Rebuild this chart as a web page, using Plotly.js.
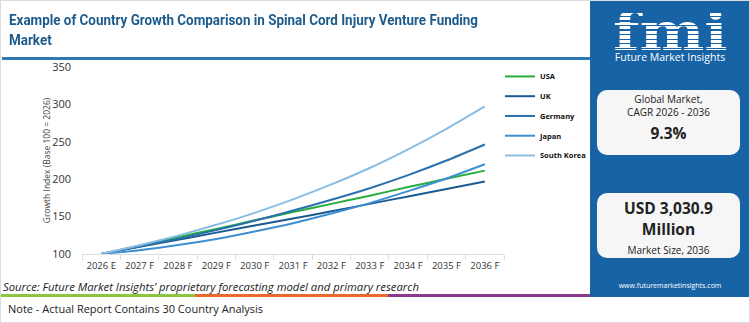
<!DOCTYPE html>
<html><head><meta charset="utf-8">
<script src="https://cdn.plot.ly/plotly-3.0.1.min.js"></script>
<style>
html,body{margin:0;padding:0;background:#fff;}
#wrap{position:relative;width:750px;height:323px;overflow:hidden;background:#fff;font-family:"Open Sans",sans-serif;}
#border{position:absolute;left:0;top:0;width:748px;height:321px;border:1px solid #dcdcdc;}
#title{position:absolute;left:9px;top:10px;font-family:Roboto,sans-serif;font-weight:700;font-size:15px;line-height:20px;color:#1d5b8c;white-space:nowrap;transform-origin:0 0;}
#tline{position:absolute;left:2px;top:57px;width:588px;height:3px;background:#2c78b0;}
#chart{position:absolute;left:0;top:40px;width:660px;height:250px;}
#panel{position:absolute;left:590px;top:0;width:160px;height:297px;background:#1863a6;}
.box{position:absolute;left:7px;width:143px;height:65px;background:#f6f6f6;border-radius:10px;text-align:center;color:#222;}
#src{position:absolute;left:3px;top:279px;font-style:italic;font-size:11.3px;color:#222;font-family:"Open Sans",sans-serif;}
#cl1{position:absolute;left:0;top:294px;width:195px;height:3px;background:#8cc63f;}
#cl2{position:absolute;left:195px;top:294px;width:193px;height:3px;background:#e8692b;}
#cl3{position:absolute;left:388px;top:294px;width:202px;height:3px;background:#8a3a8c;}
#note{position:absolute;left:8px;top:301px;font-size:11px;color:#222;}
#logo{position:absolute;left:0;top:0;width:160px;height:66px;}
#fmi{position:absolute;left:23px;top:13px;font-family:"DejaVu Serif",serif;font-weight:700;font-size:52px;line-height:38px;transform:scaleX(1.18);transform-origin:0 0;
background:repeating-linear-gradient(to bottom,#ffffff 0px,#ffffff 3px,#1863a6 3px,#1863a6 4.5px);-webkit-background-clip:text;background-clip:text;color:transparent;}
#fmis{position:absolute;left:0;top:51px;width:160px;text-align:center;color:#fff;font-size:10.5px;line-height:13px;}
#web{position:absolute;left:0;top:281px;width:160px;text-align:center;color:#fff;font-size:7px;}
</style></head>
<body>
<div id="wrap">
<div id="title"><span id="t1">Example of Country Growth Comparison in Spinal Cord Injury Venture Funding</span><br>Market</div>
<div id="tline"></div>
<div id="chart"></div>
<div id="panel">
 <div id="logo"><div id="fmi">fmi</div><div id="fmis">Future Market Insights</div></div>
 <div class="box" style="top:90px;">
  <div style="font-size:10px;margin-top:3px;line-height:13px;">Global Market,<br>CAGR 2026 - 2036</div>
  <div style="font-size:15.5px;font-weight:700;margin-top:3px;">9.3%</div>
 </div>
 <div class="box" style="top:193px;">
  <div style="font-size:15.5px;font-weight:700;margin-top:5px;line-height:21px;">USD 3,030.9<br>Million</div>
  <div style="font-size:10px;margin-top:3px;">Market Size, 2036</div>
 </div>
 <div id="web">www.futuremarketinsights.com</div>
</div>
<div id="src">Source: Future Market Insights’ proprietary forecasting model and primary research</div>
<div id="cl1"></div><div id="cl2"></div><div id="cl3"></div>
<div id="note">Note - Actual Report Contains 30 Country Analysis</div>
<div id="border"></div>
</div>
<script>
const years = ['2026 E','2027 F','2028 F','2029 F','2030 F','2031 F','2032 F','2033 F','2034 F','2035 F','2036 F'];
const usa = [100, 111, 122.5, 133.5, 145, 156, 167, 178, 189.5, 200.5, 211.5];
const uk = [100, 109.5, 119, 128.5, 138, 147.5, 157, 167, 177, 187, 197];
const germany = [100, 110, 120.5, 132, 144.5, 158, 172.5, 188, 205.5, 225, 246.5];
const japan = [100, 105, 112, 120, 130, 141, 154, 168, 184, 201, 220];
const southKorea = [100, 111.5, 124.5, 139, 155, 173, 193, 215, 240, 267.5, 297.5];
const seriesNames = ['USA','UK','Germany','Japan','South Korea'];
const seriesData = [usa, uk, germany, japan, southKorea];
const colors = ['#25ad3e','#1b5a90','#2a70ad','#3d8fd2','#8abde3'];

// fit title first line to reference width
const t1 = document.getElementById('t1');
const w = t1.getBoundingClientRect().width;
document.getElementById('title').style.transform = 'scaleX(' + (469 / w) + ')';

const traces = seriesData.map((d,i)=>({
  x: years, y: d, name: seriesNames[i], legendgroup: 'g' + i, type:'scatter', mode:'lines',
  line:{color:colors[i], width:2, shape:'spline', smoothing:0.6}
}));

const layout = {
  width:660, height:250,
  margin:{l:82,r:156,t:27,b:36},
  paper_bgcolor:'rgba(0,0,0,0)', plot_bgcolor:'rgba(0,0,0,0)',
  font:{family:'"Open Sans", sans-serif', color:'#333'},
  showlegend:true,
  legend:{x:0.9905, y:1.027, xanchor:'left', yanchor:'top', font:{size:7.5, color:'#111', weight:700}, itemwidth:30, tracegroupgap:0.75, bgcolor:'rgba(0,0,0,0)'},
  xaxis:{type:'category', automargin:false, showgrid:false, showline:true, linecolor:'#dddddd', linewidth:1,
    ticks:'outside', tickson:'boundaries', ticklen:5, tickcolor:'#dddddd', tickangle:0, ticklabelstandoff:3,
    tickfont:{size:9.5, color:'#333'}, range:[-0.5,10.5], zeroline:false},
  yaxis:{automargin:false, range:[99.9,350.2], tickvals:[100,150,200,250,300,350], showgrid:false, zeroline:false, showline:false,
    tickfont:{size:11, color:'#333'}, ticks:'', ticklabelstandoff:10,
    title:{text:'Growth Index (Base 100 = 2026)', font:{size:8.5, color:'#444'}, standoff:0}}
};
Plotly.newPlot('chart', traces, layout, {staticPlot:true, displayModeBar:false});
</script>
</body></html>
